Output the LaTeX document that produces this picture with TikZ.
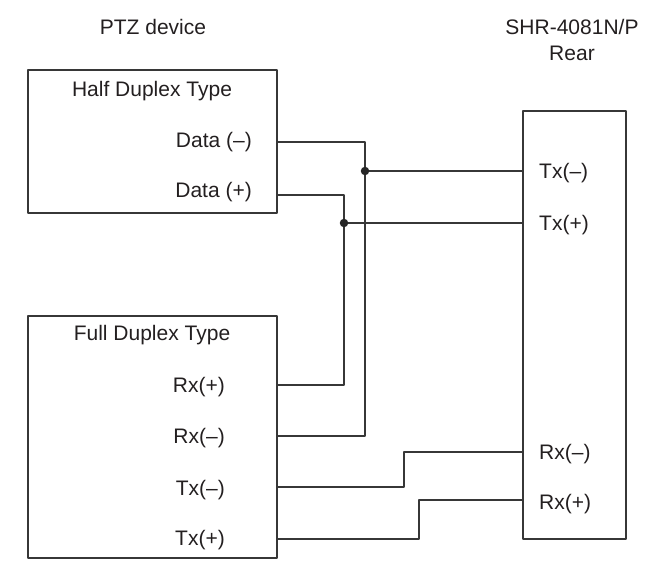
\documentclass[tikz,border=0pt]{standalone}
\usepackage{fontspec}
\setmainfont{Liberation Sans}

\definecolor{ink}{RGB}{35,31,32}
\definecolor{wire}{RGB}{55,55,55}

\begin{document}
\begin{tikzpicture}[
  x=1pt, y=-1pt, % pixel size, y grows downward
  font=\fontsize{21}{25}\selectfont,
  line join=round,
  box/.style={draw=wire, line width=1.3pt, inner sep=0pt},
  pinl/.style={anchor=east, inner sep=0pt, text height=15pt, text depth=0pt, text=ink},
  pinr/.style={anchor=west, inner sep=0pt, text height=15pt, text depth=0pt, text=ink},
  title/.style={inner sep=0pt, text height=15pt, text depth=0pt, text=ink},
  wire/.style={draw=wire, line width=1.3pt},
  dot/.style={circle, fill=black!85, inner sep=0pt, minimum size=8.5pt}
]
  % ---- page ----
  \useasboundingbox (0,0) rectangle (646,561);

  % ---- box edges ----
  \def\LL{28}   % left boxes, left side
  \def\LR{277}  % left boxes, right side
  \def\RL{523}  % rear panel, left side
  \def\RR{626}  % rear panel, right side

  % ---- titles ----
  \node[title] (ptz) at (153,27) {PTZ device};
  \node[title] (shr) at (572,27) {SHR-4081N/P};
  \node[title] (rear) at (572,53) {Rear};

  % ---- boxes ----
  \node[box, minimum width=249pt, minimum height=143pt] (half) at (152.5,141.5) {};
  \node[box, minimum width=249pt, minimum height=242pt] (full) at (152.5,437) {};
  \node[box, minimum width=103pt, minimum height=428pt] (rearbox) at (574.5,325) {};

  \node[title] (halftype) at (152,89) {Half Duplex Type};
  \node[title] (fulltype) at (152,333) {Full Duplex Type};

  % ---- pin labels ----
  \node[pinl] (datam) at (252,140) {Data (–)};
  \node[pinl] (datap) at (252,190) {Data (+)};
  \foreach \n/\t/\y in {frxp/Rx(+)/385, frxm/Rx(–)/436, ftxm/Tx(–)/488, ftxp/Tx(+)/538} {
    \node[pinl] (\n) at (225,\y) {\t};
  }
  \foreach \n/\t/\y in {rtxm/Tx(–)/171, rtxp/Tx(+)/223, rrxm/Rx(–)/452, rrxp/Rx(+)/502} {
    \node[pinr] (\n) at (539,\y) {\t};
  }

  % ---- wire ends on the box edges ----
  \coordinate (hdm) at (\LR,142);
  \coordinate (hdp) at (\LR,195);
  \coordinate (fdrxp) at (\LR,385);
  \coordinate (fdrxm) at (\LR,436);
  \coordinate (fdtxm) at (\LR,487);
  \coordinate (fdtxp) at (\LR,539);
  \coordinate (retxm) at (\RL,171);
  \coordinate (retxp) at (\RL,223);
  \coordinate (rerxm) at (\RL,452);
  \coordinate (rerxp) at (\RL,500);

  % ---- bends and joints ----
  \coordinate (j1) at (365,171);
  \coordinate (j2) at (344,223);
  \coordinate (k1) at (404,470);
  \coordinate (k2) at (419,520);

  % ---- wiring ----
  % Data(-) joins Rx(-), tapped to rear Tx(-)
  \draw[wire] (hdm) -| (j1) |- (fdrxm);
  \draw[wire] (j1) -- (retxm);
  % Data(+) joins Rx(+), tapped to rear Tx(+)
  \draw[wire] (hdp) -| (j2) |- (fdrxp);
  \draw[wire] (j2) -- (retxp);
  % Tx pair to rear Rx pair
  \draw[wire] (fdtxm) -| (k1) |- (rerxm);
  \draw[wire] (fdtxp) -| (k2) |- (rerxp);

  % joints
  \node[dot] (d1) at (j1) {};
  \node[dot] (d2) at (j2) {};

\end{tikzpicture}
\end{document}
